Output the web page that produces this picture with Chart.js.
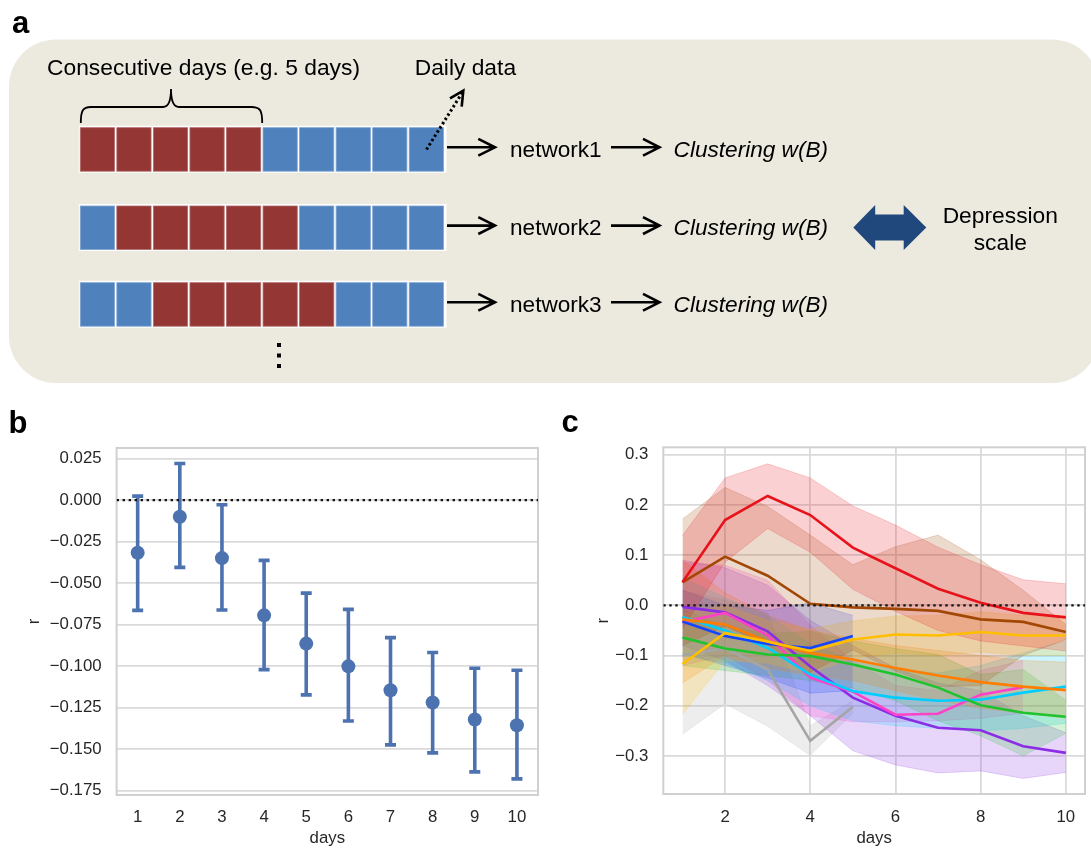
<!DOCTYPE html>
<html><head><meta charset="utf-8">
<script src="https://cdn.jsdelivr.net/npm/chart.js@4.4.1/dist/chart.umd.min.js"></script>
<style>
html,body{margin:0;padding:0;background:#fff;}
body{width:1091px;height:849px;position:relative;overflow:hidden;font-family:"Liberation Sans",Arial,sans-serif;}
canvas{position:absolute;}
#cb{left:0;top:400px;}
#cc{left:545px;top:400px;}
#diag{position:absolute;left:0;top:0;pointer-events:none;}
</style></head><body>
<canvas id="cb" width="545" height="449"></canvas>
<canvas id="cc" width="546" height="449"></canvas>
<svg id="diag" width="1091" height="849" xmlns="http://www.w3.org/2000/svg" font-family="Liberation Sans, Arial, sans-serif">
  <rect x="9" y="39.5" width="1090" height="343.5" rx="47" ry="47" fill="#ECE9DF"/>
  <g id="rows"></g>
  <path d="M80.8,123 C80.8,111 82.5,107 91,107 L163,107 C169,107 171,101 171,89 C171,101 173,107 179,107 L252,107 C260.5,107 262.2,111 262.2,123" fill="none" stroke="#000" stroke-width="1.8"/>
  <line x1="426.5" y1="149.5" x2="462" y2="93" stroke="#000" stroke-width="3" stroke-dasharray="2.4,2.6"/>
  <polyline points="450,98.3 463.3,90.7 461.7,106.7" fill="none" stroke="#000" stroke-width="2.6"/>
  <g id="arrows" fill="none" stroke="#000" stroke-width="2.6"></g>
  <polygon points="853.3,227.5 875.2,205 875.2,214.5 903.7,214.5 903.7,205 926.3,227.5 903.7,250 903.7,240.5 875.2,240.5 875.2,250" fill="#21487C"/>
  <g font-size="22.8" fill="#000">
    <text x="47" y="74.5">Consecutive days (e.g. 5 days)</text>
    <text x="414.7" y="74.5">Daily data</text>
    <text x="1000.3" y="222.5" text-anchor="middle">Depression</text>
    <text x="1000.3" y="249.5" text-anchor="middle">scale</text>
  </g>
  <g id="rowtext" font-size="22.6" fill="#000"></g>
  <rect x="277" y="343" width="4" height="4" fill="#000"/>
  <rect x="277" y="353.5" width="4" height="4" fill="#000"/>
  <rect x="277" y="364" width="4" height="4" fill="#000"/>
  <g font-size="31" font-weight="bold" fill="#000">
    <text x="12" y="33.3">a</text>
    <text x="8.5" y="433">b</text>
    <text x="561.5" y="432.3">c</text>
  </g>
</svg>
<script>
// ---------- panel a (diagram) ----------
const diagRowTops = [127.7, 206, 282.7];
const diagRedStart = [0, 1, 2];
const diagWindow = 5;
const diagSquares = 10;
const diagNetworks = ['network1', 'network2', 'network3'];
const diagClustering = 'Clustering w(B)';

// ---------- panel b data ----------
const bDays = [1, 2, 3, 4, 5, 6, 7, 8, 9, 10];
const bMean = [-0.0317, -0.0100, -0.0349, -0.0694, -0.0864, -0.1001, -0.1145, -0.1219, -0.1321, -0.1356];
const bLow  = [-0.0664, -0.0405, -0.0662, -0.1021, -0.1173, -0.1330, -0.1474, -0.1522, -0.1637, -0.1679];
const bHigh = [ 0.0024,  0.0221, -0.0028, -0.0363, -0.0560, -0.0658, -0.0828, -0.0918, -0.1013, -0.1025];
const bYTicks = [0.025, 0, -0.025, -0.05, -0.075, -0.1, -0.125, -0.15, -0.175];

// ---------- panel c data ----------
const cDays = [1, 2, 3, 4, 5, 6, 7, 8, 9, 10];
const cXTicks = [2, 4, 6, 8, 10];
const cYTicks = [0.3, 0.2, 0.1, 0, -0.1, -0.2, -0.3];

const redMean = [0.046, 0.170, 0.218, 0.180, 0.115, 0.074, 0.033, 0.005, -0.015, -0.024];
const redLo   = [-0.047, 0.086, 0.153, 0.106, 0.032, -0.012, -0.050, -0.071, -0.081, -0.091];
const redHi   = [0.139, 0.254, 0.282, 0.254, 0.198, 0.160, 0.116, 0.081, 0.051, 0.043];

const brownMean = [0.046, 0.097, 0.059, 0.003, -0.004, -0.007, -0.011, -0.028, -0.033, -0.053];
const brownLo   = [-0.080, -0.041, -0.079, -0.134, -0.089, -0.131, -0.162, -0.160, -0.100, -0.068];
const brownHi   = [0.172, 0.235, 0.197, 0.140, 0.081, 0.117, 0.140, 0.091, 0.030, -0.038];

const yellowMean = [-0.117, -0.055, -0.072, -0.091, -0.068, -0.058, -0.060, -0.053, -0.060, -0.060];
const yellowLo   = [-0.217, -0.110, -0.115, -0.135, -0.105, -0.095, -0.100, -0.093, -0.100, -0.100];
const yellowHi   = [-0.017, 0.000, -0.030, -0.047, -0.031, -0.021, -0.020, -0.013, -0.020, -0.020];

const orangeMean = [-0.028, -0.038, -0.072, -0.095, -0.108, -0.125, -0.140, -0.153, -0.162, -0.169];
const orangeLo   = [-0.155, -0.100, -0.125, -0.140, -0.150, -0.170, -0.190, -0.205, -0.215, -0.225];
const orangeHi   = [0.090, 0.025, -0.020, -0.050, -0.066, -0.080, -0.090, -0.100, -0.110, -0.113];

const blueMean = [-0.032, -0.061, -0.077, -0.085, -0.061];
const blueLo   = [-0.095, -0.120, -0.145, -0.175, -0.170];
const blueHi   = [0.030, 0.000, -0.010, 0.005, -0.020];

const greenMean = [-0.064, -0.086, -0.098, -0.101, -0.118, -0.138, -0.164, -0.199, -0.214, -0.222];
const greenLo   = [-0.120, -0.130, -0.140, -0.150, -0.165, -0.190, -0.230, -0.260, -0.300, -0.255];
const greenHi   = [-0.008, -0.042, -0.056, -0.052, -0.071, -0.086, -0.098, -0.138, -0.128, -0.189];

const cyanMean = [-0.023, -0.050, -0.085, -0.138, -0.171, -0.184, -0.190, -0.188, -0.174, -0.162];
const cyanLo   = [-0.100, -0.115, -0.150, -0.200, -0.230, -0.240, -0.245, -0.250, -0.245, -0.235];
const cyanHi   = [0.055, 0.015, -0.020, -0.076, -0.112, -0.128, -0.135, -0.120, -0.095, -0.070];

const magentaMean = [-0.033, -0.015, -0.060, -0.144, -0.172, -0.218, -0.216, -0.178, -0.163];
const magentaLo   = [-0.120, -0.100, -0.150, -0.220, -0.232, -0.232, -0.230, -0.225, -0.215];
const magentaHi   = [0.085, 0.080, 0.050, -0.040, -0.110, -0.160, -0.170, -0.130, -0.110];

const purpleMean = [-0.003, -0.014, -0.052, -0.122, -0.184, -0.220, -0.244, -0.249, -0.281, -0.294];
const purpleLo   = [-0.080, -0.110, -0.160, -0.220, -0.290, -0.318, -0.334, -0.330, -0.345, -0.333];
const purpleHi   = [0.090, 0.075, 0.040, -0.030, -0.080, -0.125, -0.155, -0.170, -0.220, -0.254];

const greyMean = [-0.100, -0.085, -0.128, -0.270, -0.202];
const greyLo   = [-0.257, -0.196, -0.241, -0.299, -0.215];
const greyHi   = [0.030, 0.010, -0.015, -0.240, -0.190];

// ---------- build diagram ----------
(function(){
  const NS = 'http://www.w3.org/2000/svg';
  const rows = document.getElementById('rows');
  const arrows = document.getElementById('arrows');
  const rtext = document.getElementById('rowtext');
  const mk = (p, tag, a, t) => { const e = document.createElementNS(NS, tag); for (const k in a) e.setAttribute(k, a[k]); if (t != null) e.textContent = t; p.appendChild(e); return e; };
  diagRowTops.forEach((top, r) => {
    mk(rows, 'rect', {x: 78.8, y: top - 2, width: 367.7, height: 47, fill: '#FFFFFF'});
    for (let i = 0; i < diagSquares; i++) {
      const red = i >= diagRedStart[r] && i < diagRedStart[r] + diagWindow;
      mk(rows, 'rect', {x: 80.3 + i * 36.55, y: top, width: 34.2, height: 43.5,
        fill: red ? '#943634' : '#4F81BD', stroke: red ? '#B06A68' : '#7FA3D0', 'stroke-width': 0.8});
    }
    const ay = top + 19.6;
    mk(arrows, 'path', {d: `M447,${ay} H494 M478.3,${ay-8.4} L495,${ay} L478.3,${ay+8.4}`});
    mk(arrows, 'path', {d: `M611,${ay} H658.5 M643,${ay-8.4} L659.5,${ay} L643,${ay+8.4}`});
    mk(rtext, 'text', {x: 510, y: ay + 9.2}, diagNetworks[r]);
    mk(rtext, 'text', {x: 673.6, y: ay + 9.2, 'font-style': 'italic'}, diagClustering);
  });
})();

// ---------- shared helpers ----------
const TICK_COLOR = '#262626';
const GRID_COLOR = '#DADADA';
const FONT = {family: '"Liberation Sans", Arial, sans-serif', size: 16.8};
const minus = v => v.replace('-', '\u2212');

const framePlugin = {
  id: 'frame',
  beforeDatasetsDraw(chart) {
    const {ctx, chartArea: a} = chart;
    ctx.save();
    ctx.strokeStyle = '#D0D0D0';
    ctx.lineWidth = 2;
    ctx.strokeRect(a.left, a.top, a.right - a.left, a.bottom - a.top);
    ctx.restore();
  }
};

const errorBarPlugin = {
  id: 'errbars',
  beforeDatasetsDraw(chart, args, opts) {
    const {ctx, scales: {x, y}} = chart;
    ctx.save();
    ctx.strokeStyle = opts.color;
    ctx.lineWidth = opts.width;
    bDays.forEach((d, i) => {
      const px = x.getPixelForValue(d);
      const y1 = y.getPixelForValue(bLow[i]);
      const y2 = y.getPixelForValue(bHigh[i]);
      ctx.beginPath();
      ctx.moveTo(px, y1); ctx.lineTo(px, y2);
      ctx.moveTo(px - opts.cap, y1); ctx.lineTo(px + opts.cap, y1);
      ctx.moveTo(px - opts.cap, y2); ctx.lineTo(px + opts.cap, y2);
      ctx.stroke();
    });
    ctx.restore();
  }
};

// ---------- panel b ----------
new Chart(document.getElementById('cb'), {
  type: 'scatter',
  data: {datasets: [
    {data: bDays.map((d, i) => ({x: d, y: bMean[i]})), pointRadius: 7, pointBackgroundColor: '#4C72B0', pointBorderWidth: 0, borderColor: 'rgba(0,0,0,0)', order: 2},
    {type: 'line', data: [{x: 0.5, y: 0}, {x: 10.5, y: 0}], borderColor: '#111', borderWidth: 2.4, borderDash: [2.4, 3.6], pointRadius: 0, fill: false, order: 1}
  ]},
  options: {
    responsive: false, animation: false, events: [],
    layout: {padding: {left: 0, top: 48, right: 6.5, bottom: 0}},
    plugins: {legend: {display: false}, tooltip: {enabled: false},
      errbars: {color: '#4C72B0', width: 3.6, cap: 5.5}},
    scales: {
      x: {type: 'linear', min: 0.5, max: 10.5,
        afterBuildTicks: s => { s.ticks = bDays.map(v => ({value: v})); },
        afterFit: s => { s.height = 54; },
        grid: {display: false, drawTicks: false}, border: {display: false},
        ticks: {font: FONT, color: TICK_COLOR, padding: 12, maxRotation: 0, callback: v => String(v)},
        title: {display: true, text: 'days', font: FONT, color: TICK_COLOR, padding: {top: 0, bottom: 0.5}}},
      y: {type: 'linear', min: -0.1776, max: 0.0314,
        afterBuildTicks: s => { s.ticks = bYTicks.map(v => ({value: v})); },
        afterFit: s => { s.width = 116.6; },
        grid: {color: GRID_COLOR, lineWidth: 1.8, drawTicks: false}, border: {display: false},
        ticks: {font: FONT, color: TICK_COLOR, padding: 15, callback: v => minus(v.toFixed(3))},
        title: {display: true, text: 'r', font: FONT, color: TICK_COLOR, padding: {top: 24, bottom: 0}}}
    }
  },
  plugins: [framePlugin, errorBarPlugin]
});

// ---------- panel c ----------
const cSeries = [
  {name: 'red',     mean: redMean,     lo: redLo,     hi: redHi,     rgb: [232, 18, 28]},
  {name: 'brown',   mean: brownMean,   lo: brownLo,   hi: brownHi,   rgb: [162, 72, 4]},
  {name: 'yellow',  mean: yellowMean,  lo: yellowLo,  hi: yellowHi,  rgb: [255, 190, 0]},
  {name: 'orange',  mean: orangeMean,  lo: orangeLo,  hi: orangeHi,  rgb: [255, 125, 0]},
  {name: 'blue',    mean: blueMean,    lo: blueLo,    hi: blueHi,    rgb: [20, 70, 255]},
  {name: 'green',   mean: greenMean,   lo: greenLo,   hi: greenHi,   rgb: [30, 195, 45]},
  {name: 'cyan',    mean: cyanMean,    lo: cyanLo,    hi: cyanHi,    rgb: [0, 205, 255]},
  {name: 'magenta', mean: magentaMean, lo: magentaLo, hi: magentaHi, rgb: [255, 65, 200]},
  {name: 'purple',  mean: purpleMean,  lo: purpleLo,  hi: purpleHi,  rgb: [140, 45, 230]},
  {name: 'grey',    mean: greyMean,    lo: greyLo,    hi: greyHi,    rgb: [165, 165, 165]}
];
const pts = arr => arr.map((v, i) => ({x: cDays[i], y: v}));
const rgba = (c, a) => `rgba(${c[0]},${c[1]},${c[2]},${a})`;
const cDatasets = [];
cSeries.forEach(s => {
  const loIdx = cDatasets.length;
  cDatasets.push({data: pts(s.lo), borderColor: rgba(s.rgb, 0.18), borderWidth: 1, pointRadius: 0, fill: false, order: 3});
  cDatasets.push({data: pts(s.hi), borderColor: rgba(s.rgb, 0.18), borderWidth: 1, pointRadius: 0, fill: loIdx, backgroundColor: rgba(s.rgb, 0.2), order: 3});
});
cSeries.forEach(s => {
  cDatasets.push({data: pts(s.mean), borderColor: rgba(s.rgb, 1), borderWidth: 2.6, pointRadius: 0, fill: false, order: 2});
});
cDatasets.push({data: [{x: 0.55, y: 0}, {x: 10.45, y: 0}], borderColor: '#111', borderWidth: 2.4, borderDash: [2.4, 3.6], pointRadius: 0, fill: false, order: 1});

new Chart(document.getElementById('cc'), {
  type: 'line',
  data: {datasets: cDatasets},
  options: {
    responsive: false, animation: false, events: [],
    elements: {line: {tension: 0}},
    layout: {padding: {left: 0, top: 47.3, right: 6, bottom: 0}},
    plugins: {legend: {display: false}, tooltip: {enabled: false}},
    scales: {
      x: {type: 'linear', min: 0.55, max: 10.45,
        afterBuildTicks: s => { s.ticks = cXTicks.map(v => ({value: v})); },
        afterFit: s => { s.height = 55; },
        grid: {color: GRID_COLOR, lineWidth: 1.8, drawTicks: false}, border: {display: false},
        ticks: {font: FONT, color: TICK_COLOR, padding: 13, maxRotation: 0, callback: v => String(v)},
        title: {display: true, text: 'days', font: FONT, color: TICK_COLOR, padding: {top: 0, bottom: 0.5}}},
      y: {type: 'linear', min: -0.376, max: 0.315,
        afterBuildTicks: s => { s.ticks = cYTicks.map(v => ({value: v})); },
        afterFit: s => { s.width = 118.3; },
        grid: {color: GRID_COLOR, lineWidth: 1.8, drawTicks: false}, border: {display: false},
        ticks: {font: FONT, color: TICK_COLOR, padding: 15, callback: v => minus(v.toFixed(1))},
        title: {display: true, text: 'r', font: FONT, color: TICK_COLOR, padding: {top: 48, bottom: 0}}}
    }
  },
  plugins: [framePlugin]
});
</script>
</body></html>
